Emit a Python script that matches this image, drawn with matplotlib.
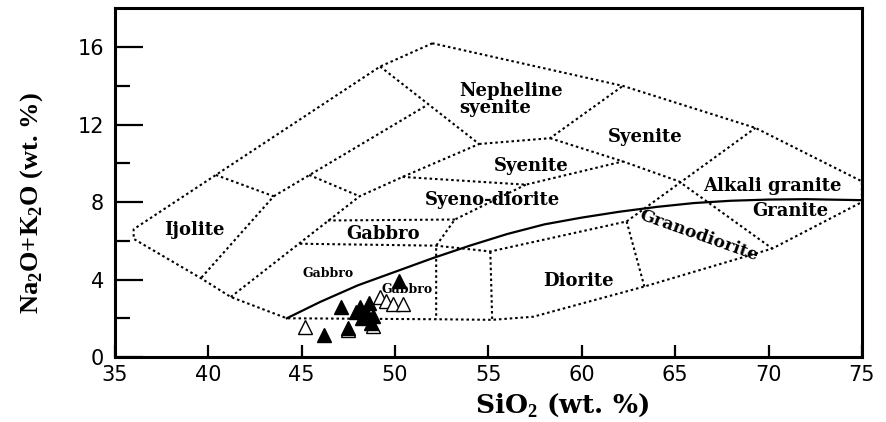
import matplotlib
matplotlib.use("Agg")
import matplotlib.pyplot as plt

# TAS plutonic field boundaries, (SiO2, Na2O+K2O)
outer_x = [52.0, 49.2, 40.4, 36.0, 36.0, 39.6, 41.2, 44.2, 52.2, 55.2, 57.4, 63.35, 70.2, 75.0, 75.0, 69.3, 62.2, 52.0]
outer_y = [16.2, 15.0, 9.4, 6.6, 6.1, 4.07, 3.1, 2.0, 1.95, 1.92, 2.08, 3.64, 5.6, 8.0, 9.07, 11.83, 14.0, 16.2]

ijolite_x = [40.4, 43.5, 39.6]
ijolite_y = [9.4, 8.3, 4.07]

inner_low_x = [41.2, 48.1, 50.4, 54.5]
inner_low_y = [3.1, 8.3, 9.3, 11.0]

inner_up_x = [43.5, 51.7]
inner_up_y = [8.3, 13.0]

nephsy_left_x = [49.2, 54.5]
nephsy_left_y = [15.0, 11.0]

gabbro_top_x = [45.4, 48.1]
gabbro_top_y = [9.4, 8.3]

nephsy_low_x = [54.5, 58.3, 62.2]
nephsy_low_y = [11.0, 11.3, 14.0]

syenite_low_x = [58.3, 62.2, 65.2, 70.2]
syenite_low_y = [11.3, 10.1, 9.07, 5.6]

syenodio_top_x = [50.4, 57.0, 62.2]
syenodio_top_y = [9.3, 8.9, 10.1]

syenodio_right_x = [57.0, 53.2, 52.2, 52.2]
syenodio_right_y = [8.9, 7.1, 5.75, 1.95]

gabbro_up_x = [46.4, 53.2]
gabbro_up_y = [7.05, 7.1]

gabbro_low_x = [44.9, 52.2, 55.1, 62.4]
gabbro_low_y = [5.85, 5.75, 5.45, 7.0]

diorite_left_x = [55.1, 55.2]
diorite_left_y = [5.45, 1.92]

granodio_left_x = [62.4, 63.35]
granodio_left_y = [7.0, 3.64]

granodio_up_x = [62.4, 69.3]
granodio_up_y = [7.0, 11.83]

boundaries = [
    (outer_x, outer_y), (ijolite_x, ijolite_y), (inner_low_x, inner_low_y),
    (inner_up_x, inner_up_y), (nephsy_left_x, nephsy_left_y),
    (gabbro_top_x, gabbro_top_y), (nephsy_low_x, nephsy_low_y),
    (syenite_low_x, syenite_low_y), (syenodio_top_x, syenodio_top_y),
    (syenodio_right_x, syenodio_right_y), (gabbro_up_x, gabbro_up_y),
    (gabbro_low_x, gabbro_low_y), (diorite_left_x, diorite_left_y),
    (granodio_left_x, granodio_left_y), (granodio_up_x, granodio_up_y),
]

# alkaline / subalkaline divide
divide_x = [44.2, 46.0, 48.0, 50.0, 52.0, 54.0, 56.0, 58.0, 60.0, 62.0, 64.0, 66.0, 68.0, 70.0, 72.0, 75.0]
divide_y = [2.0, 2.85, 3.7, 4.4, 5.1, 5.75, 6.35, 6.85, 7.2, 7.5, 7.75, 7.95, 8.07, 8.13, 8.15, 8.1]

# samples
filled_x = [50.2, 47.1, 48.1, 48.6, 47.9, 48.45, 48.8, 48.25, 48.7, 47.5, 46.2]
filled_y = [3.9, 2.6, 2.6, 2.8, 2.3, 2.35, 2.1, 2.0, 1.75, 1.5, 1.15]
open_x = [45.2, 47.5, 48.8, 49.2, 49.5, 49.9, 50.4]
open_y = [1.55, 1.4, 1.6, 3.1, 2.9, 2.75, 2.75]

# field names
field_names = ["Nepheline\nsyenite", "Syenite", "Syenite", "Syeno-diorite", "Alkali granite",
               "Granite", "Ijolite", "Gabbro", "Diorite"]
field_x = [53.45, 57.3, 63.4, 55.2, 70.2, 71.15, 39.25, 49.35, 59.8]
field_y = [13.3, 9.85, 11.37, 8.12, 8.85, 7.55, 6.57, 6.35, 3.93]
small_names = ["Gabbro", "Gabbro"]
small_x = [46.4, 50.65]
small_y = [4.33, 3.47]

plt.rcParams['mathtext.fontset'] = 'custom'
plt.rcParams['mathtext.rm'] = 'Liberation Serif:bold'
plt.rcParams['mathtext.bf'] = 'Liberation Serif:bold'

fig = plt.figure(figsize=(8.86, 4.22), dpi=100)
ax = fig.add_axes([0.1298, 0.154, 0.843, 0.826])

dots = (0, (1.2, 1.4))
for bx, by in boundaries:
    ax.plot(bx, by, color='black', lw=1.5, ls=dots, dash_capstyle='butt')

ax.plot(divide_x, divide_y, color='black', lw=1.6)

ax.plot(open_x, open_y, ls='none', marker='^', ms=10, mfc='white', mec='black', mew=1.0)
ax.plot(filled_x, filled_y, ls='none', marker='^', ms=10, mfc='black', mec='black')

for i in range(len(field_names)):
    ha = 'left' if i == 0 else 'center'
    ax.text(field_x[i] if i else 53.44, field_y[i], field_names[i], ha=ha, va='center',
            family='DejaVu Serif', weight='bold', fontsize=13, linespacing=0.95)
for i in range(len(small_names)):
    ax.text(small_x[i], small_y[i], small_names[i], ha='center', va='center',
            family='DejaVu Serif', weight='bold', fontsize=9)
ax.text(66.25, 6.26, "Granodiorite", ha='center', va='center', rotation=-19.5,
        rotation_mode='anchor', family='DejaVu Serif', weight='bold', fontsize=12.5)

ax.set_xlim(35, 75)
ax.set_ylim(0, 18)
ax.set_xticks(range(35, 76, 5))
ax.set_yticks([0, 4, 8, 12, 16])
ax.set_yticks([2, 6, 10, 14], minor=True)
ax.tick_params(axis='x', direction='in', length=8.5, width=1.6, labelsize=15, pad=6)
ax.tick_params(axis='y', which='major', direction='in', length=20, width=1.6, labelsize=15, pad=8)
ax.tick_params(axis='y', which='minor', direction='in', length=11, width=1.6)
for s in ax.spines.values():
    s.set_linewidth(2.2)

ax.set_xlabel(r"SiO$_2$ (wt. %)", family='DejaVu Serif', weight='bold', fontsize=19, va='center')
ax.xaxis.set_label_coords(0.598, -0.138)
ax.set_ylabel(r"Na$_2$O+K$_2$O (wt. %)", family='Liberation Serif', weight='bold', fontsize=19,
              va='center', ha='center')
ax.yaxis.set_label_coords(-0.112, 0.44)

fig.savefig("out.png", dpi=100)
